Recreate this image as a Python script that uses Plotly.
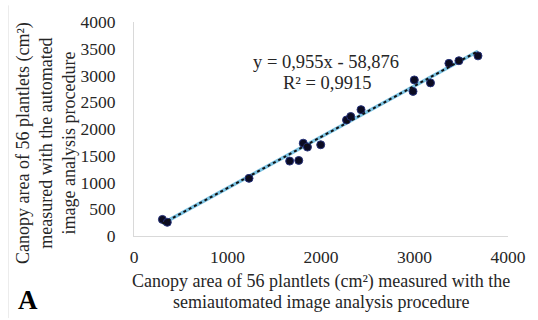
import plotly.graph_objects as go

# Data
semi_x = [304, 356, 1230, 1665, 1762, 1810, 1855, 1997, 2273, 2318, 2428,
          2984, 2998, 3171, 3368, 3475, 3679]
auto_y = [310, 256, 1078, 1400, 1412, 1735, 1662, 1705, 2168, 2234, 2362,
          2703, 2917, 2862, 3227, 3276, 3367]
slope = 0.955
intercept = -58.876
r2_text = "R² = 0,9915"
eq_text = "y = 0,955x - 58,876"
x_title = ["Canopy area of 56 plantlets (cm²) measured with the",
           "semiautomated image analysis procedure"]
y_title = "Canopy area of 56 plantlets (cm²)<br>measured with the automated<br>image analysis procedure"
x_ticks = [0, 1000, 2000, 3000, 4000]
y_ticks = [0, 500, 1000, 1500, 2000, 2500, 3000, 3500, 4000]

FONT = "Liberation Serif"
TXT = "#262626"

x0, x1 = min(semi_x), max(semi_x)
trend_x = [x0, x1]
trend_y = [slope * v + intercept for v in trend_x]

fig = go.Figure()
fig.add_trace(go.Scatter(x=trend_x, y=trend_y, mode="lines",
                         line=dict(color="#7cc3e3", width=3.5),
                         hoverinfo="skip", showlegend=False))
fig.add_trace(go.Scatter(x=semi_x, y=auto_y, mode="markers",
                         marker=dict(size=8, color="#0b0b22",
                                     line=dict(color="#27337a", width=1)),
                         showlegend=False))
fig.add_trace(go.Scatter(x=trend_x, y=trend_y, mode="lines",
                         line=dict(color="#111111", width=2, dash="dot"),
                         hoverinfo="skip", showlegend=False))

L, R, T, B = 134, 18, 17, 84
W, H = 538, 320
pw, ph = W - L - R, H - T - B


def px(xp):
    return (xp - L) / pw


def py(yp):
    return (H - B - yp) / ph


def ann(text, x, y, size, angle=0, color=TXT):
    return dict(text=text, x=px(x), y=py(y), xref="paper", yref="paper",
                showarrow=False, xanchor="center", yanchor="middle",
                textangle=angle, font=dict(family=FONT, size=size, color=color))


annotations = [
    ann(eq_text, 332, 58, 18.5),
    ann(r2_text, 333, 79, 18.5),
    ann(x_title[0], 327, 283, 18),
    ann(x_title[1], 327, 304, 18),
    ann(y_title, 43, 141, 18, angle=-90),
    ann("<b>A</b>", 25, 301, 27, color="#000000"),
]

fig.update_layout(
    width=W, height=H,
    margin=dict(l=L, r=R, t=T, b=B),
    paper_bgcolor="white", plot_bgcolor="white",
    font=dict(family=FONT, size=17, color=TXT),
    annotations=annotations,
    shapes=[dict(type="line", xref="paper", yref="paper",
                 x0=px(4.5), x1=px(4.5), y0=py(0), y1=py(320),
                 line=dict(color="#ececec", width=1))],
    xaxis=dict(range=[0, 4000], tickvals=x_ticks, showgrid=False,
               zeroline=False, showline=True, linecolor="#d9d9d9",
               linewidth=1, ticks="", ticklabelstandoff=5,
               tickfont=dict(family=FONT, size=17.5, color=TXT)),
    yaxis=dict(range=[0, 4000], tickvals=y_ticks, showgrid=False,
               zeroline=False, showline=True, linecolor="#d9d9d9",
               linewidth=1, ticks="", ticklabelstandoff=14,
               tickfont=dict(family=FONT, size=17.5, color=TXT)),
)

fig.write_html("out.html")
